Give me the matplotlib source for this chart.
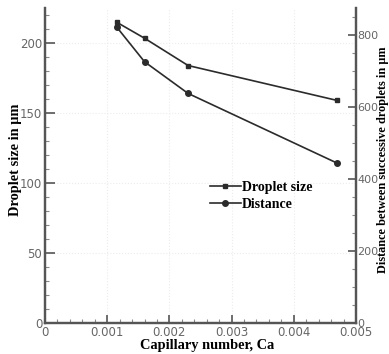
import numpy as np
import matplotlib.pyplot as plt
from matplotlib.ticker import MultipleLocator

# Values
ca = [0.00115, 0.0016, 0.0023, 0.0047]
droplet_size = [215, 203.5, 184, 159]     # left axis, um
distance = [823, 726, 638, 444]           # right axis, um

x_ticks = [0, 0.001, 0.002, 0.003, 0.004, 0.005]
x_tick_labels = ['0', '0.001', '0.002', '0.003', '0.004', '0.005']

spine_col = '#555555'
tick_col = '#666666'
line_col = '#2b2b2b'
label_font = dict(family='Liberation Serif', weight='bold', size=10.4)

fig = plt.figure(figsize=(3.89, 3.54), dpi=100)
ax = fig.add_axes([0.1157, 0.0876, 0.7995, 0.8894])
ax2 = ax.twinx()

l1, = ax.plot(ca, droplet_size, color=line_col, lw=1.2, marker='s', ms=3,
              label='Droplet size')
l2, = ax2.plot(ca, distance, color=line_col, lw=1.2, marker='o', ms=4,
               label='Distance')

ax.set_xlim(0, 0.005)
ax.set_ylim(0, 225)
ax2.set_ylim(0, 875)

ax.set_xticks(x_ticks)
ax.set_xticklabels(x_tick_labels)
ax.xaxis.set_minor_locator(MultipleLocator(0.0002))
ax.yaxis.set_major_locator(MultipleLocator(50))
ax.yaxis.set_minor_locator(MultipleLocator(10))
ax2.yaxis.set_major_locator(MultipleLocator(200))
ax2.yaxis.set_minor_locator(MultipleLocator(50))

for a in (ax, ax2):
    a.tick_params(which='major', direction='in', length=6, width=1.2,
                  color=spine_col, labelsize=8.5, labelcolor=tick_col, pad=2)
    a.tick_params(which='minor', direction='in', length=3, width=0.8,
                  color='#888888')
    for s in a.spines.values():
        s.set_color(spine_col)
        s.set_linewidth(1.6)
    a.spines['top'].set_visible(False)
ax.tick_params(axis='y', which='major', length=7)
ax2.tick_params(axis='y', which='major', pad=1, labelsize=8)

ax.grid(True, which='major', color='#ececec', ls=':', lw=0.8)

ax.set_xlabel('Capillary number, Ca', fontdict=label_font)
ax.xaxis.set_label_coords(0.52, -0.05)
ax.set_ylabel('Droplet size in µm', fontdict=label_font)
ax.yaxis.set_label_coords(-0.075, 0.52)
ax2.set_ylabel('Distance between successive droplets in µm',
               family='Liberation Serif', weight='bold', size=8.8)
ax2.yaxis.set_label_coords(1.067, 0.52)

leg = ax.legend(handles=[l1, l2], loc='upper left',
                bbox_to_anchor=(0.513, 0.47), frameon=False,
                prop=dict(family='Liberation Serif', weight='bold', size=10),
                handlelength=2.2, handletextpad=0.1, labelspacing=0.3,
                borderaxespad=0)

fig.savefig('out.png', dpi=100)
